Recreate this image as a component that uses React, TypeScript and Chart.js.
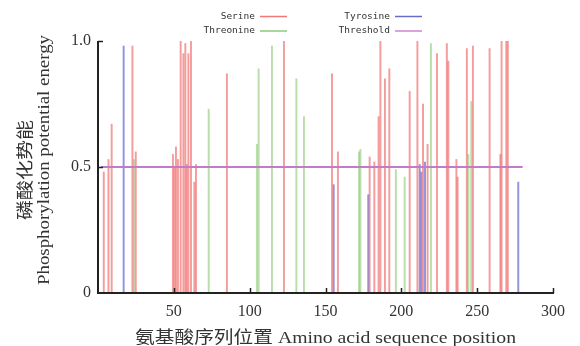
import React, { useEffect, useRef } from "react";
import { Chart, registerables } from "chart.js";

Chart.register(...registerables);

// ---- data ----
const serinePos = [3.8, 6.9, 9.0, 22.7, 24.9, 49.4, 50.4, 51.4, 52.7, 54.5, 56.3, 57.6, 58.5, 59.6, 61.3, 63.5, 64.6, 85.0, 122.6, 154.3, 158.2, 179.1, 182.2, 185.0, 186.2, 189.2, 192.1, 205.5, 210.6, 214.3, 217.3, 223.5, 230.0, 231.0, 236.3, 237.1, 243.2, 247.2, 258.2, 265.3, 266.1, 269.2, 270.2];
const serineVal = [0.48, 0.53, 0.67, 0.98, 0.56, 0.55, 0.5, 0.58, 0.53, 1.0, 0.95, 0.99, 0.51, 0.95, 1.0, 0.44, 0.51, 0.87, 1.0, 0.87, 0.56, 0.54, 0.52, 0.7, 1.0, 0.85, 0.89, 0.8, 1.0, 0.75, 0.59, 0.95, 0.99, 0.92, 0.53, 0.46, 0.97, 0.98, 0.97, 0.55, 1.0, 1.0, 1.0];

const threoninePos = [23.7, 73.0, 104.8, 105.9, 114.7, 130.8, 135.8, 172.1, 173.0, 196.4, 202.2, 219.5, 244.2, 246.1];
const threonineVal = [0.53, 0.73, 0.59, 0.89, 0.98, 0.85, 0.7, 0.56, 0.57, 0.49, 0.46, 0.99, 0.55, 0.76];

const tyrosinePos = [16.9, 155.4, 178.2, 212.1, 213.2, 215.6, 277.1];
const tyrosineVal = [0.98, 0.43, 0.39, 0.51, 0.48, 0.52, 0.44];

const thresholdPos = [2, 280];
const thresholdVal = [0.5, 0.5];

const seriesNames = ["Serine", "Threonine", "Tyrosine", "Threshold"];
const xTitle = "氨基酸序列位置 Amino acid sequence position";
const yTitleZh = "磷酸化势能";
const yTitleEn = "Phosphorylation potential energy";

const colSerine = "rgba(238,92,92,0.6)";
const colThreonine = "rgba(130,195,100,0.55)";
const colTyrosine = "rgba(90,90,200,0.65)";
const colThreshold = "#c07cc8";

const legendSerine = "#f07878";
const legendThreonine = "#8cc878";
const legendTyrosine = "#6a6ac8";
const legendThreshold = "#c888cc";

const zip = (xs: number[], ys: number[]) => xs.map((x, i) => ({ x, y: ys[i] }));

function drawFitted(ctx: CanvasRenderingContext2D, text: string, cx: number, cy: number, targetW: number, font: string, angle: number, color: string) {
  ctx.save();
  ctx.translate(cx, cy);
  ctx.rotate(angle);
  ctx.font = font;
  const w = ctx.measureText(text).width;
  ctx.scale(targetW / w, 1);
  ctx.fillStyle = color;
  ctx.textAlign = "center";
  ctx.textBaseline = "middle";
  ctx.fillText(text, 0, 0);
  ctx.restore();
}

const decor = {
  id: "decor",
  afterDraw(chart: any) {
    const ctx: CanvasRenderingContext2D = chart.ctx;
    const { left, right, top, bottom } = chart.chartArea;
    const xs = chart.scales.x;
    const ys = chart.scales.y;
    ctx.save();
    // axes
    ctx.strokeStyle = "#222";
    ctx.lineWidth = 2;
    ctx.beginPath();
    ctx.moveTo(left, top);
    ctx.lineTo(left, bottom);
    ctx.lineTo(right + 1, bottom);
    ctx.stroke();
    // inward ticks
    ctx.lineWidth = 1.5;
    ctx.beginPath();
    for (const t of xs.ticks) {
      if (t.value === 0) continue;
      const px = Math.round(xs.getPixelForValue(t.value)) + 0.5;
      ctx.moveTo(px, bottom);
      ctx.lineTo(px, bottom - 5);
    }
    for (const t of ys.ticks) {
      if (t.value === 0) continue;
      const py = Math.round(ys.getPixelForValue(t.value)) + 0.5;
      ctx.moveTo(left, py);
      ctx.lineTo(left + 5, py);
    }
    ctx.stroke();

    // legend
    ctx.font = "9.5px 'DejaVu Sans Mono'";
    ctx.fillStyle = "#333";
    ctx.textAlign = "right";
    ctx.textBaseline = "middle";
    const legendItems = [
      { name: seriesNames[0], color: legendSerine, tx: 255, ty: 16.5 },
      { name: seriesNames[1], color: legendThreonine, tx: 255, ty: 31 },
      { name: seriesNames[2], color: legendTyrosine, tx: 390, ty: 16.5 },
      { name: seriesNames[3], color: legendThreshold, tx: 390, ty: 31 },
    ];
    for (const it of legendItems) {
      ctx.fillText(it.name, it.tx, it.ty);
      ctx.strokeStyle = it.color;
      ctx.lineWidth = 1.5;
      ctx.beginPath();
      ctx.moveTo(it.tx + 5, it.ty);
      ctx.lineTo(it.tx + 32, it.ty);
      ctx.stroke();
    }

    // axis titles
    const midY = (top + bottom) / 2;
    drawFitted(ctx, yTitleZh, 25, midY + 3, 100, "17px 'Noto Sans CJK SC', serif", -Math.PI / 2, "#333");
    drawFitted(ctx, yTitleEn, 45, midY - 7, 250, "17px 'Liberation Serif', serif", -Math.PI / 2, "#333");
    drawFitted(ctx, xTitle, (left + right) / 2, 339, 381, "17px 'Liberation Serif', 'Noto Sans CJK SC', serif", 0, "#333");
    ctx.restore();
  },
};

export default function App() {
  const ref = useRef<HTMLCanvasElement | null>(null);
  useEffect(() => {
    if (!ref.current) return;
    const barCommon = { barThickness: 1.3, grouped: false, borderWidth: 0, order: 1 };
    const chart = new Chart(ref.current, {
      type: "bar",
      data: {
        datasets: [
          { label: seriesNames[0], data: zip(serinePos, serineVal), backgroundColor: colSerine, ...barCommon } as any,
          { label: seriesNames[1], data: zip(threoninePos, threonineVal), backgroundColor: colThreonine, ...barCommon } as any,
          { label: seriesNames[2], data: zip(tyrosinePos, tyrosineVal), backgroundColor: colTyrosine, ...barCommon } as any,
          {
            type: "line",
            label: seriesNames[3],
            data: zip(thresholdPos, thresholdVal),
            borderColor: colThreshold,
            borderWidth: 2,
            pointRadius: 0,
            fill: false,
            order: 0,
          } as any,
        ],
      },
      options: {
        responsive: false,
        animation: false,
        devicePixelRatio: 1,
        layout: { padding: { left: 0, top: 41, right: 27, bottom: 0 } },
        plugins: { legend: { display: false }, tooltip: { enabled: false } },
        scales: {
          x: {
            type: "linear",
            min: 0,
            max: 300,
            offset: false,
            grid: { display: false, drawTicks: false },
            border: { display: false },
            ticks: {
              stepSize: 50,
              padding: 9,
              color: "#333",
              font: { family: "'Liberation Serif', serif", size: 16 },
              callback: (v: any) => (v === 0 ? "" : String(v)),
              maxRotation: 0,
            },
            afterFit: (s: any) => {
              s.height = 53;
            },
          },
          y: {
            min: 0,
            max: 1,
            grid: { display: false, drawTicks: false },
            border: { display: false },
            ticks: {
              stepSize: 0.5,
              padding: 7,
              color: "#333",
              font: { family: "'Liberation Serif', serif", size: 16 },
              callback: (v: any) => (v === 0 ? "0" : Number(v).toFixed(1)),
            },
            afterFit: (s: any) => {
              s.width = 98;
            },
          },
        },
      } as any,
      plugins: [decor],
    });
    return () => chart.destroy();
  }, []);
  return (
    <div style={{ position: "fixed", left: 0, top: 0, width: 580, height: 346, background: "#fff" }}>
      <canvas ref={ref} width={580} height={346} style={{ width: 580, height: 346, display: "block" }} />
    </div>
  );
}
